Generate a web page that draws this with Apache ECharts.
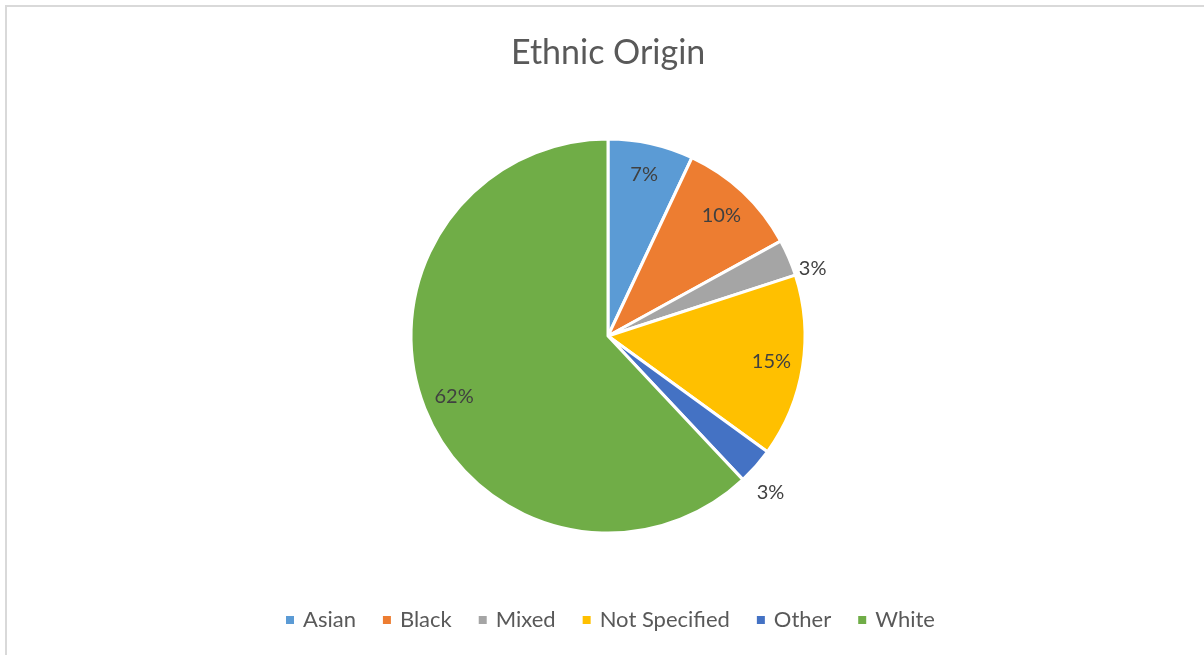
<!DOCTYPE html>
<html>
<head>
<meta charset="utf-8">
<title>Ethnic Origin</title>
<script src="https://cdn.jsdelivr.net/npm/echarts@6/dist/echarts.min.js"></script>
<style>
  html, body { margin: 0; padding: 0; background: #ffffff; }
  #chart { width: 1204px; height: 655px; }
</style>
</head>
<body>
<div id="chart"></div>
<script>
// Ethnic origin breakdown, percentage of total
const categories = ['Asian', 'Black', 'Mixed', 'Not Specified', 'Other', 'White'];
const shares = [7, 10, 3, 15, 3, 62];
const sliceColors = ['#5B9BD5', '#ED7D31', '#A5A5A5', '#FFC000', '#4472C4', '#70AD47'];

// slices whose percentage sits outside the pie
const outsideLabels = ['Mixed', 'Other'];

const FONT = 'Lato, "Open Sans", sans-serif';
const CENTER = [608, 336];
const RADIUS = 197;

const pieData = categories.map((name, i) => ({
  name,
  value: shares[i],
  itemStyle: { color: sliceColors[i] }
}));

const fmt = p => Math.round(p.percent) + '%';

// nudges for the two outside labels so they sit just off the rim
const outsideNudge = {
  Mixed: { dx: -6, dy: 16 },
  Other: { dx: -13, dy: 18 }
};

const chart = echarts.init(document.getElementById('chart'), null, { renderer: 'canvas' });

chart.setOption({
  animation: false,
  backgroundColor: '#ffffff',
  title: {
    text: 'Ethnic Origin',
    left: 506,
    top: 31,
    textStyle: { fontFamily: FONT, fontSize: 34, fontWeight: 'normal', color: '#595959' }
  },
  legend: {
    data: categories,
    left: 279,
    top: 604,
    icon: 'rect',
    itemWidth: 10,
    itemHeight: 10,
    itemGap: 25,
    textStyle: { fontFamily: FONT, fontSize: 22, color: '#595959', padding: [0, 0, 0, 3] }
  },
  graphic: [{
    type: 'rect',
    shape: { x: 6, y: 6, width: 1400, height: 800 },
    style: { fill: 'none', stroke: '#d9d9d9', lineWidth: 2 },
    silent: true,
    z: -10
  }],
  series: [
    {
      // the pie itself, with the small slices labelled outside
      type: 'pie',
      center: CENTER,
      radius: [0, RADIUS],
      clockwise: true,
      startAngle: 90,
      data: pieData.map(d => {
        const outside = outsideLabels.includes(d.name);
        return Object.assign({}, d, {
          label: { show: outside, position: 'outside', distanceToLabelLine: 5 },
          labelLine: { show: false, length: 12, length2: 0 }
        });
      }),
      itemStyle: { borderColor: '#ffffff', borderWidth: 3 },
      label: {
        formatter: fmt,
        fontFamily: FONT,
        fontSize: 20,
        color: '#404040'
      },
      labelLayout: function (params) {
        const nudge = outsideNudge[categories[params.dataIndex]];
        return nudge ? { dx: nudge.dx, dy: nudge.dy } : {};
      },
      emphasis: { disabled: true }
    },
    {
      // transparent ring used to place the inner labels near the rim
      type: 'pie',
      center: CENTER,
      radius: [128, RADIUS],
      startAngle: 90,
      silent: true,
      legendHoverLink: false,
      data: pieData.map(d => ({
        name: d.name,
        value: d.value,
        itemStyle: { color: 'rgba(0,0,0,0)', borderWidth: 0 },
        label: { show: !outsideLabels.includes(d.name) }
      })),
      label: {
        position: 'inside',
        formatter: fmt,
        fontFamily: FONT,
        fontSize: 20,
        color: '#404040'
      },
      labelLine: { show: false },
      emphasis: { disabled: true },
      tooltip: { show: false }
    }
  ]
});
</script>
</body>
</html>
